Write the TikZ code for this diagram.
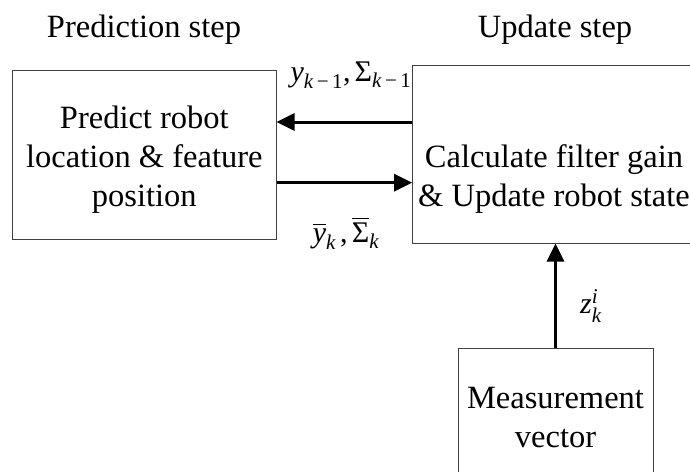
\documentclass[tikz,border=0pt]{standalone}
\usepackage{amsmath}
\usepackage{fontspec}
\setmainfont{Liberation Serif}
\usetikzlibrary{arrows.meta}
\newcommand{\vv}[1]{\text{\itshape #1}}
\newcommand{\km}{\vv{k}\text{\,−\,1}}
\begin{document}
\begin{tikzpicture}[x=1pt,y=-1pt,
  box/.style={draw=black!75,line width=1pt,inner sep=0pt},
  txt/.style={font=\fontsize{32.5}{36}\selectfont,align=center,inner sep=0pt},
  lbl/.style={font=\fontsize{30}{36}\selectfont,inner sep=0pt},
  flow/.style={line width=3pt,-{Triangle[length=18pt,width=17pt]}}]
\useasboundingbox (0,0) rectangle (690,471);
\clip (0,0) rectangle (690,471);
% titles
\node[txt,anchor=base] (t1) at (144,37) {Prediction step};
\node[txt,anchor=base] (t2) at (555,37) {Update step};
% boxes
\node[box,minimum width=263.3pt,minimum height=168.3pt] (pred) at (144.35,154.85) {};
\node[txt,anchor=base] (p1) at (144.35,128) {Predict robot};
\node[txt,anchor=base] (p2) at (144.35,167) {location \& feature};
\node[txt,anchor=base] (p3) at (144.35,206) {position};
\node[box,minimum width=285.3pt,minimum height=177.3pt] (upd) at (555.35,154.35) {};
\node[txt,anchor=base] (u1) at (554,167) {Calculate filter gain};
\node[txt,anchor=base] (u2) at (554,206) {\& Update robot state};
\node[box,minimum width=195pt,minimum height=150pt] (meas) at (555.5,423) {};
\node[txt,anchor=base] (m1) at (555.5,408) {Measurement};
\node[txt,anchor=base] (m2) at (555.5,447) {vector};
% connectors
\draw[flow] (upd.west |- 0,122) -- (pred.east |- 0,122);
\draw[flow] (pred.east |- 0,182.7) -- (upd.west |- 0,182.7);
\draw[flow] (meas.north) -- (meas.north |- upd.south);
% labels
\node[lbl,anchor=base] (l1) at (351,81) {$\vv{y}_{\km}\text{,}\,\text{Σ}_{\km}$};
\node[lbl,anchor=base] (l2) at (346,242) {$\overline{\vv{y}}_{\vv{k}}\,\text{,}\,\overline{\text{Σ}}_{\vv{k}}$};
\node[lbl,anchor=base west] (l3) at (580,313) {$\vv{z}_{\vv{k}}^{\vv{i}}$};
\end{tikzpicture}
\end{document}
